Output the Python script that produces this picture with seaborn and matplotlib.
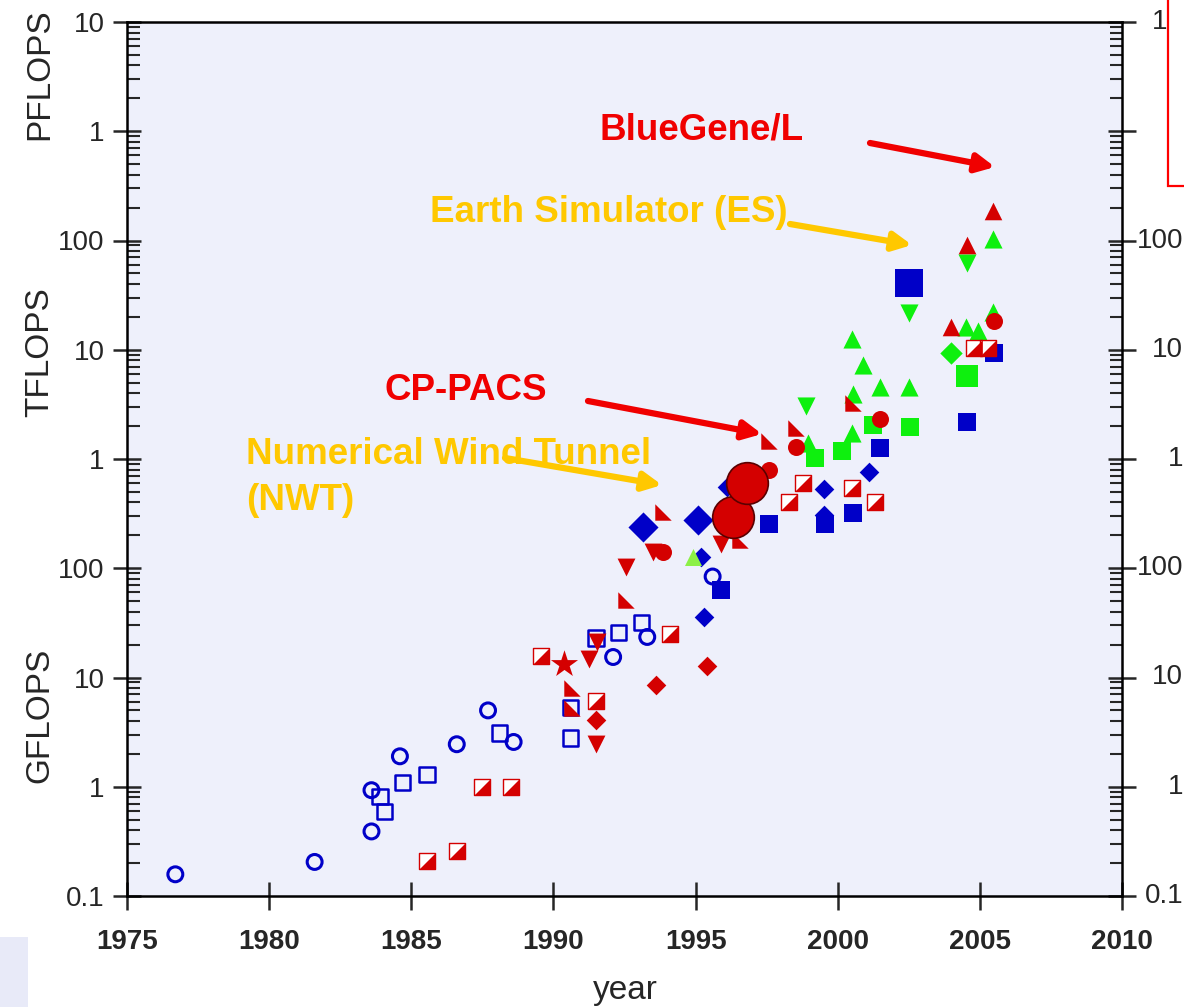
import numpy as np
import pandas as pd
import matplotlib
matplotlib.use('Agg')
import matplotlib.pyplot as plt
import matplotlib.ticker as mticker
from matplotlib.patches import Rectangle
import seaborn as sns

# performance in GFLOPS, by year of installation
blue_ring_year = [1976.7, 1981.6, 1983.6, 1983.6, 1984.6, 1986.6, 1987.7, 1988.6, 1992.1, 1993.3, 1995.6]
blue_ring_perf = [0.158, 0.205, 0.93, 0.39, 1.9, 2.45, 5.0, 2.57, 15.4, 23.5, 84]

blue_box_year = [1983.9, 1984.05, 1984.7, 1985.55, 1988.1, 1990.6, 1990.6, 1991.5, 1992.3, 1993.1]
blue_box_perf = [0.81, 0.59, 1.1, 1.3, 3.1, 2.8, 5.3, 23, 26, 32]

half_sq_year = [1985.55, 1986.6, 1987.5, 1988.5, 1989.55, 1991.5, 1994.1, 1998.3, 1998.77,
                2000.5, 2001.3, 2004.8, 2005.3]
half_sq_perf = [0.21, 0.26, 1.0, 1.0, 15.7, 6.1, 25, 404, 600, 543, 404, 10400, 10400]

red_wedge_year = [1990.65, 1990.65, 1992.55, 1993.85, 1996.55, 1997.6, 1998.55, 2000.55]
red_wedge_perf = [8.0, 5.3, 51, 327, 182, 1460, 1920, 3240]

red_down_year = [1991.25, 1991.55, 1991.5, 1992.55, 1993.5, 1995.9]
red_down_perf = [14.8, 21, 2.46, 102, 141, 166]

red_up_year = [2004.0, 2004.55, 2005.45]
red_up_perf = [16200, 91000, 186000]

red_diam_year = [1991.5, 1993.6, 1995.4]
red_diam_perf = [4.1, 8.5, 12.7]

red_star_year = [1990.37]
red_star_perf = [13.3]

red_dot_year = [1993.85, 1997.6, 1998.55, 2001.5, 2005.5]
red_dot_perf = [141, 795, 1290, 2320, 18300]

red_big_year = [1996.3, 1996.8]
red_big_perf = [295, 600]

blue_bigdiam_year = [1993.15, 1995.1]
blue_bigdiam_perf = [239, 275]

blue_diam_year = [1995.2, 1995.3, 1996.1, 1999.5, 1999.5, 2001.1]
blue_diam_perf = [126, 36, 560, 532, 310, 760]

blue_sq_year = [1995.9, 1997.6, 1999.55, 2000.55, 2001.5, 2004.55, 2005.5]
blue_sq_perf = [63, 254, 255, 320, 1260, 2190, 9300]

blue_bigsq_year = [2002.5]
blue_bigsq_perf = [40700]

green_up_year = [1998.95, 2000.5, 2000.55, 2000.5, 2000.9, 2001.5, 2002.5,
                 2004.5, 2004.95, 2005.45, 2005.45]
green_up_perf = [1400, 1740, 3900, 12500, 7240, 4570, 4570, 16000, 15000, 22000, 103000]

lime_up_year = [1994.9]
lime_up_perf = [126]

green_down_year = [1998.9, 2002.5, 2004.55]
green_down_perf = [3060, 21700, 62000]

green_sq_year = [1999.2, 2000.15, 2001.25, 2002.55]
green_sq_perf = [1030, 1180, 2050, 1950]

green_bigsq_year = [2004.55]
green_bigsq_perf = [5740]

green_diam_year = [2004.0]
green_diam_perf = [9300]

y_tick_vals = [0.1, 1, 10, 100, 1e3, 1e4, 1e5, 1e6, 1e7]
y_tick_text = ['0.1', '1', '10', '100', '1', '10', '100', '1', '10']
x_tick_vals = [1975, 1980, 1985, 1990, 1995, 2000, 2005, 2010]

BLUE = '#0000c8'
RED = '#d40000'
GREEN = '#0ef00e'
GOLD = '#ffc800'
TXT_RED = '#f00000'

# marker shapes
WEDGE_LR = [(-1, -1), (1, -1), (1, 1)]   # lower-right half of a square
WEDGE_LL = [(-1, -1), (1, -1), (-1, 1)]  # lower-left half of a square

sns.set_style('ticks')
plt.rcParams['font.family'] = ['Liberation Sans', 'DejaVu Sans']

fig = plt.figure(figsize=(11.84, 10.07), dpi=100)
ax = fig.add_axes([127 / 1184, 1 - 896 / 1007, 995 / 1184, 874 / 1007])
ax.set_facecolor('#eef0fb')
ax.set_yscale('log')
ax.set_xlim(1975, 2010)
ax.set_ylim(0.1, 1e7)


def pts(x, y, marker, s, fc, ec, lw=0, z=3):
    sns.scatterplot(x=x, y=y, marker=marker, s=s, facecolor=fc, edgecolor=ec,
                    linewidth=lw, zorder=z, ax=ax, legend=False)


pts(blue_ring_year, blue_ring_perf, 'o', 115, 'none', BLUE, 2.2)
pts(blue_box_year, blue_box_perf, 's', 120, 'none', BLUE, 1.8)
pts(red_diam_year, red_diam_perf, 'D', 100, RED, RED)
pts(red_down_year, red_down_perf, 'v', 165, RED, RED)
pts(red_star_year, red_star_perf, '*', 420, RED, RED)
pts(blue_bigdiam_year, blue_bigdiam_perf, 'D', 235, BLUE, BLUE)
pts(blue_diam_year, blue_diam_perf, 'D', 100, BLUE, BLUE)
pts(blue_sq_year, blue_sq_perf, 's', 150, BLUE, BLUE)
pts(blue_bigsq_year, blue_bigsq_perf, 's', 380, BLUE, BLUE)
pts(lime_up_year, lime_up_perf, '^', 150, '#8cf046', '#8cf046')
pts(green_up_year, green_up_perf, '^', 170, GREEN, GREEN)
pts(green_down_year, green_down_perf, 'v', 170, GREEN, GREEN)
pts(green_sq_year, green_sq_perf, 's', 185, GREEN, GREEN)
pts(green_bigsq_year, green_bigsq_perf, 's', 250, GREEN, GREEN)
pts(green_diam_year, green_diam_perf, 'D', 130, GREEN, GREEN)
pts(red_up_year, red_up_perf, '^', 160, RED, RED, z=4)
pts(red_wedge_year, red_wedge_perf, WEDGE_LL, 140, RED, RED, z=4)
pts(half_sq_year, half_sq_perf, 's', 140, 'white', RED, 1.0, z=4)
pts(half_sq_year, half_sq_perf, WEDGE_LR, 140, RED, RED, 0.5, z=4)
pts(red_dot_year, red_dot_perf, 'o', 150, RED, RED, z=4)
pts(red_big_year, red_big_perf, 'o', 900, RED, '#5a0000', 1.2, z=5)

# axes, ticks
for side in ['left', 'right', 'bottom', 'top']:
    ax.spines[side].set_visible(True)
    ax.spines[side].set_linewidth(1.8)
    ax.spines[side].set_color('black')

ax.set_xticks(x_tick_vals)
ax.set_xticklabels([str(v) for v in x_tick_vals], fontsize=20, fontweight='bold')
ax.set_yticks(y_tick_vals)
ax.set_yticklabels(y_tick_text, fontsize=20)
ax.yaxis.set_minor_locator(mticker.LogLocator(base=10, subs=np.arange(2, 10), numticks=20))
ax.yaxis.set_minor_formatter(mticker.NullFormatter())
ax.tick_params(axis='x', which='major', direction='inout', length=20, width=1.8,
               top=False, pad=14)
ax.tick_params(axis='y', which='major', direction='inout', length=20, width=1.8,
               left=True, right=True, pad=6)
ax.tick_params(axis='y', which='minor', direction='in', length=9, width=1.5,
               left=True, right=True)
ax.set_xlabel('')
ax.set_ylabel('')

# right side labels, hard against the image edge
x_right = (1183 - 127) / 995
for v, t in zip(y_tick_vals, y_tick_text):
    ax.text(x_right, v, t, transform=ax.get_yaxis_transform(), ha='right', va='center',
            fontsize=20, clip_on=False)

fig.text(625 / 1184, 1 - 990 / 1007, 'year', ha='center', va='center', fontsize=24)
for lab, yc in [('PFLOPS', 74), ('TFLOPS', 352), ('GFLOPS', 715)]:
    fig.text(40 / 1184, 1 - yc / 1007, lab, rotation=90, ha='center', va='center', fontsize=24)

# callouts
lab_font = dict(fontsize=26.5, fontweight='bold')
fig.text(600 / 1184, 1 - 130 / 1007, 'BlueGene/L', color=TXT_RED, va='center', **lab_font)
fig.text(430 / 1184, 1 - 213 / 1007, 'Earth Simulator (ES)', color=GOLD, va='center', **lab_font)
fig.text(385 / 1184, 1 - 390 / 1007, 'CP-PACS', color=TXT_RED, va='center', **lab_font)
fig.text(246 / 1184, 1 - 455 / 1007, 'Numerical Wind Tunnel', color=GOLD, va='center', **lab_font)
fig.text(246 / 1184, 1 - 500 / 1007, '(NWT)', color=GOLD, va='center', **lab_font)

arrows = [((870, 143), (995, 167), TXT_RED),
          ((790, 224), (912, 245), GOLD),
          ((588, 401), (762, 434), TXT_RED),
          ((505, 458), (662, 485), GOLD)]
for (x0, y0), (x1, y1), col in arrows:
    ax.annotate('', xy=(x1 / 1184, 1 - y1 / 1007), xycoords='figure fraction',
                xytext=(x0 / 1184, 1 - y0 / 1007), textcoords='figure fraction',
                arrowprops=dict(arrowstyle='-|>,head_length=1.1,head_width=0.55',
                                color=col, lw=4.5, shrinkA=0, shrinkB=0),
                zorder=6, annotation_clip=False)

# legend frame peeking in at the top right
fig.patches.append(Rectangle((1168 / 1184, 1 - 186 / 1007), 0.05, 0.2,
                             transform=fig.transFigure, facecolor='white',
                             edgecolor='#ff0000', lw=1.6, zorder=10))
fig.patches.append(Rectangle((0, 0), 28 / 1184, 70 / 1007, transform=fig.transFigure,
                             facecolor='#e8eaf8', edgecolor='none', zorder=-1))

fig.savefig('out.png', dpi=100)
